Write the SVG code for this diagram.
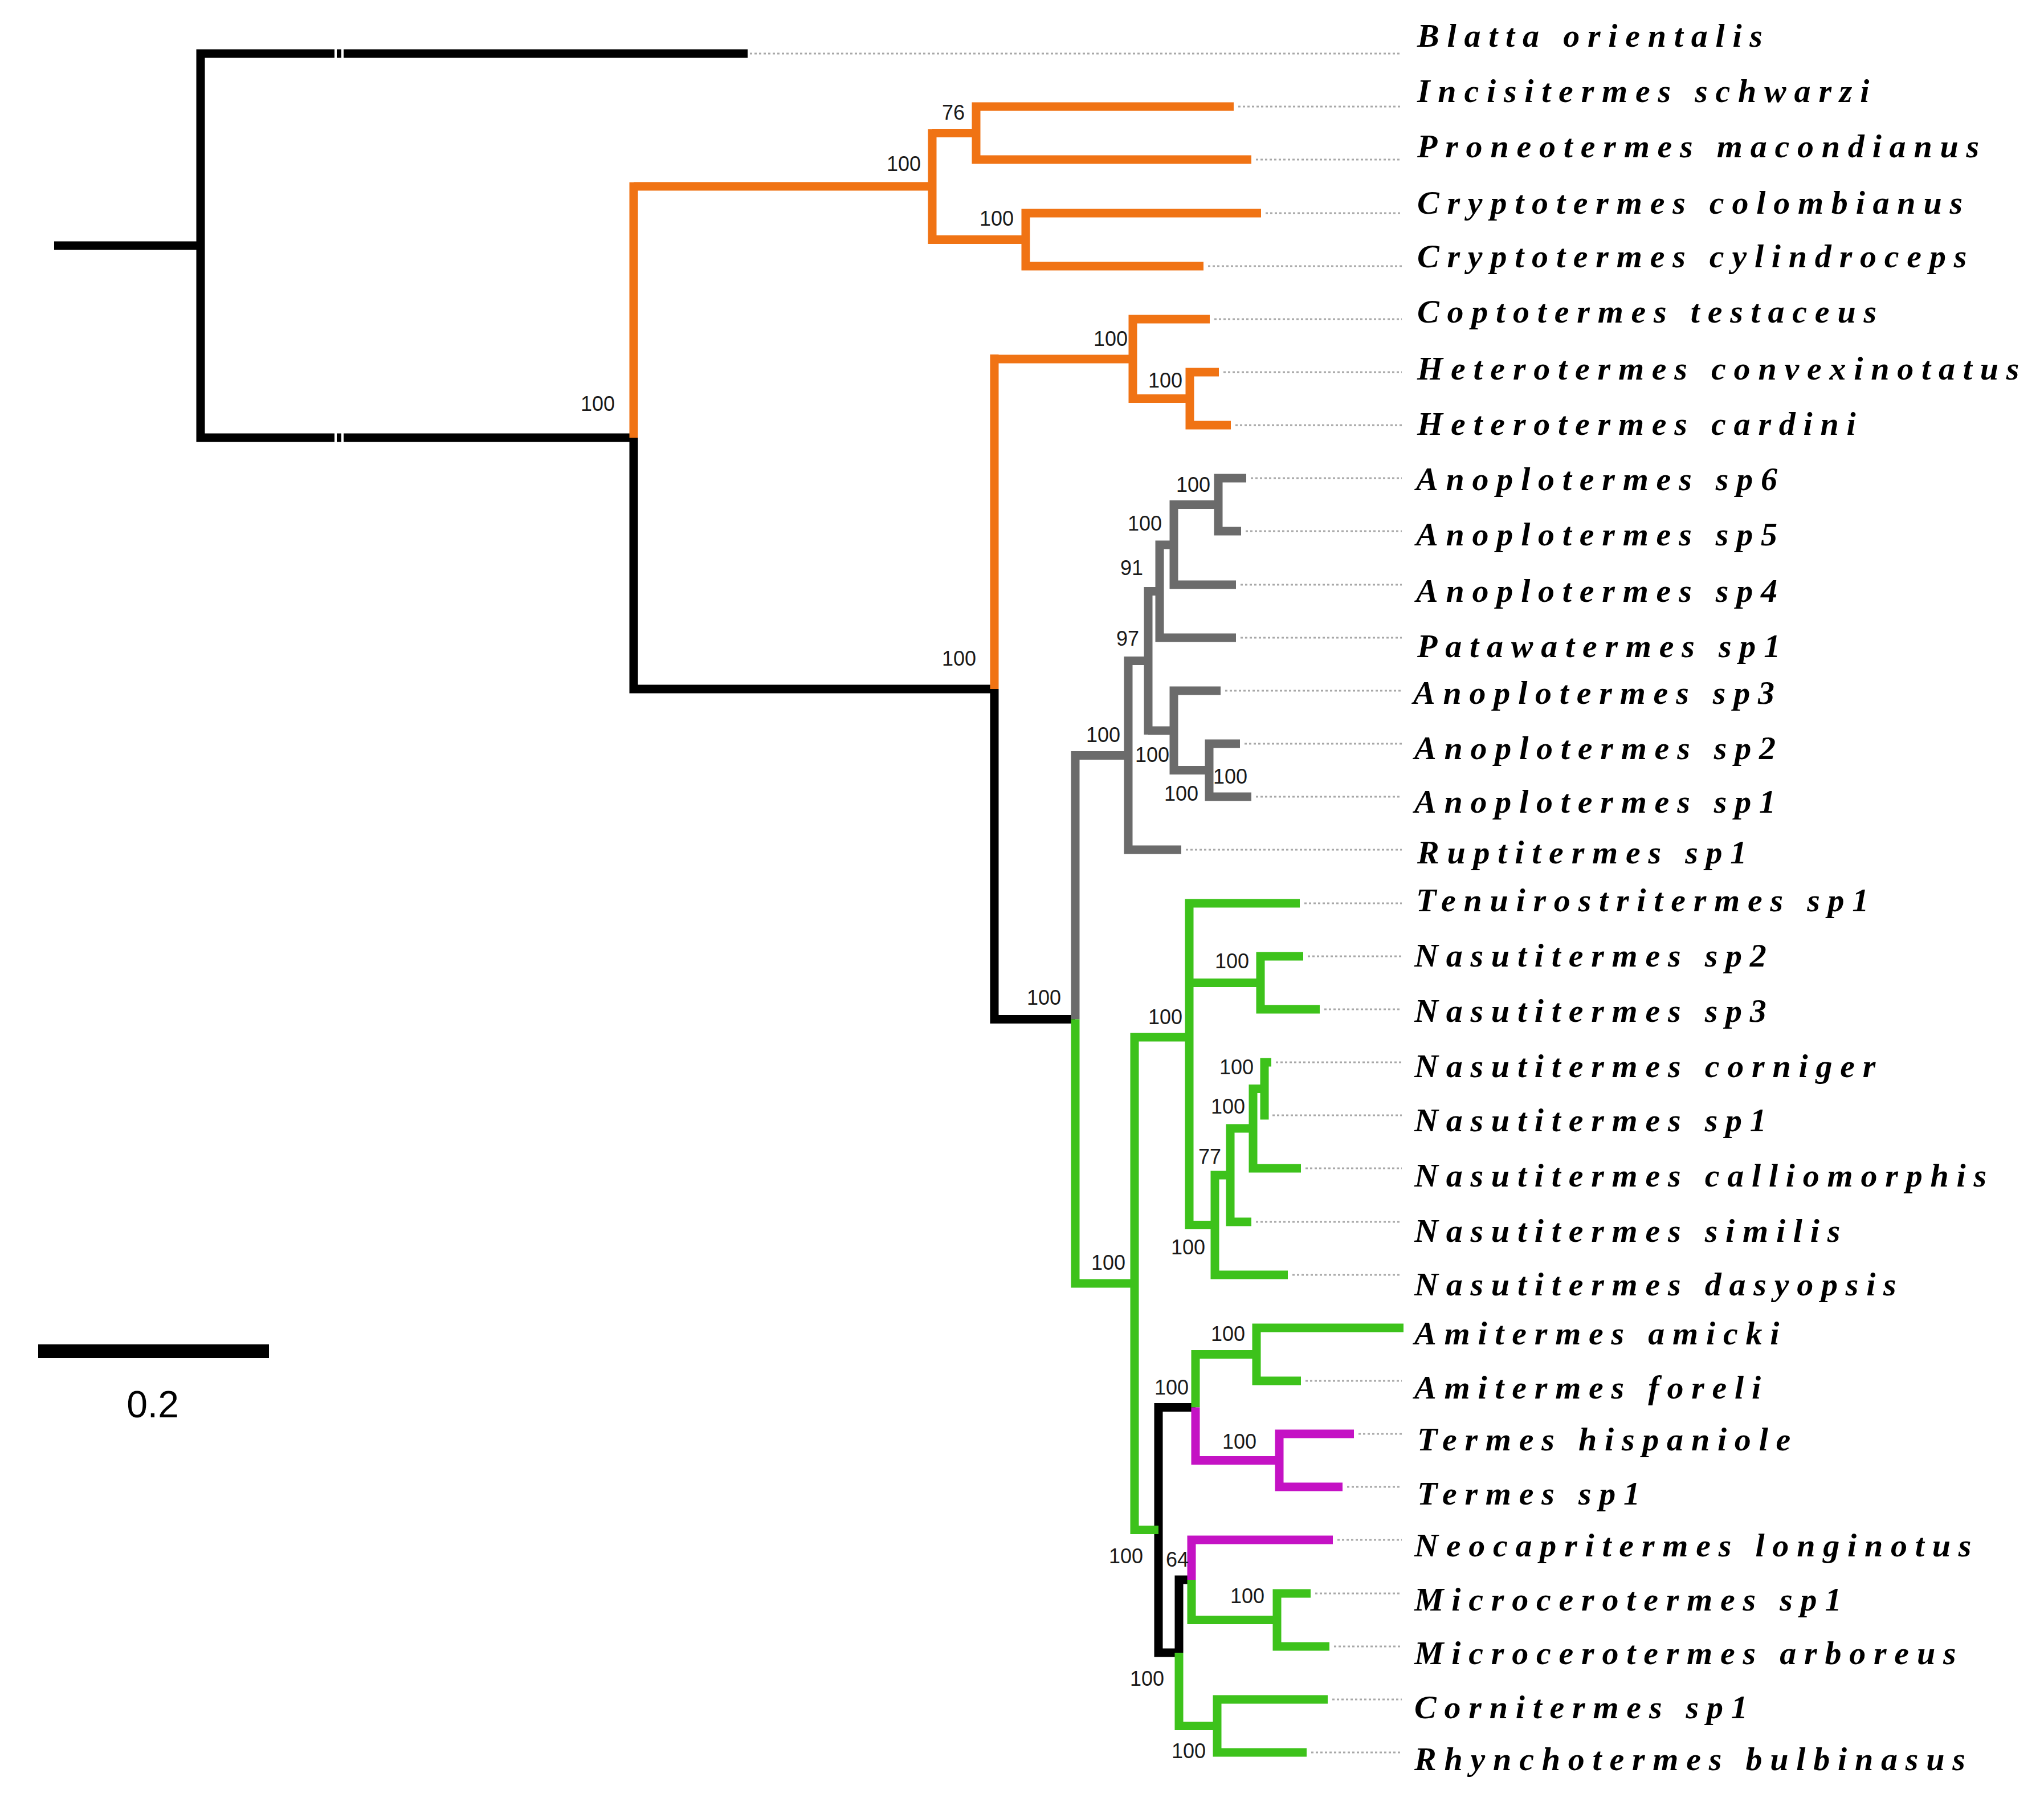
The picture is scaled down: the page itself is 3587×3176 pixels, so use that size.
<svg xmlns="http://www.w3.org/2000/svg" width="3587" height="3176" viewBox="0 0 3587 3176">
<style>
.br{fill:none;stroke-width:15;stroke-linecap:butt;stroke-linejoin:miter}
.k{stroke:#000}
.o{stroke:#F07314}
.g{stroke:#6B6B6B}
.gr{stroke:#3DC21B}
.m{stroke:#C412C4}
.lead{fill:none;stroke:#a8a8a8;stroke-width:3;stroke-dasharray:4 4}
.tax{font-family:"Liberation Serif","Times New Roman",serif;font-weight:bold;font-style:italic;font-size:58px;letter-spacing:13.8px;fill:#000}
.bs{font-family:"Liberation Sans",Arial,sans-serif;font-size:36px;fill:#1a1a1a;text-anchor:end}
.brk{stroke:#fff;stroke-width:4}
</style>
<rect width="3587" height="3176" fill="#fff"/>
<g id="connectors">
<g id="leaders">
<path class="lead" d="M1316,94H2460M2173,187H2460M2204,280H2460M2221,374H2460M2120,467H2460M2131,560H2460M2147,653H2460M2168,746H2460M2195,839H2460M2186,932H2460M2177,1026H2460M2177,1119H2460M2150,1212H2460M2184,1305H2460M2204,1398H2460M2081,1491H2460M2289,1585H2460M2295,1678H2460M2324,1771H2460M2239,1864H2460M2233,1957H2460M2291,2050H2460M2204,2144H2460M2268,2237H2460M2291,2423H2460M2384,2516H2460M2364,2609H2460M2347,2702H2460M2308,2796H2460M2341,2889H2460M2338,2982H2460M2301,3075H2460"/>
</g>
<g id="branches-black">
<path class="br k" d="M95,431H352M352,86.5V775.5M352,94H1312M352,768H1112M1112,768V1216.5M1112,1209H1745M1745,1209V1796M1745,1788.5H1887M2033,2462V2907.5M2033,2469.5H2098M2033,2900H2069M2069,2764.5V2900M2069,2772H2091"/>
<line class="brk" x1="589" y1="81" x2="589" y2="107"/>
<line class="brk" x1="601" y1="81" x2="601" y2="107"/>
<line class="brk" x1="589" y1="755" x2="589" y2="781"/>
<line class="brk" x1="601" y1="755" x2="601" y2="781"/>
</g>
<g id="branches-orange">
<path class="br o" d="M1112,320V768M1112,327H1636M1636,226.5V428M1636,233.5H1713M1636,420.5H1800M1713,179.5V287.5M1713,187H2165M1713,280H2196M1800,366.5V474.5M1800,374H2213M1800,467H2112M1745,622V1209M1745,630H1988M1988,552.5V707M1988,560H2123M1988,699.5H2088M2088,645.5V753.5M2088,653H2139M2088,746H2160"/>
</g>
<g id="branches-gray">
<path class="br g" d="M1887,1318V1788.5M1887,1325.5H1980M1980,1152V1498.5M1980,1159.5H2015M1980,1491H2073M2015,1030V1289M2015,1037.5H2035M2015,1282H2060M2035,948.5V1126.5M2035,956H2060M2035,1119H2169M2060,878V1033.5M2060,885.5H2138M2060,1026H2169M2138,831.5V939.5M2138,839H2187M2138,932H2178M2060,1204.5V1359M2060,1212H2142M2060,1351.5H2122M2122,1297.5V1405.5M2122,1305H2176M2122,1398H2196"/>
</g>
<g id="branches-green">
<path class="br gr" d="M1887,1788.5V2259.5M1887,2252H1991M1991,1812.5V2692M1991,1820H2087M1991,2684.5H2033M2087,1577.5V2157M2087,1585H2281M2087,1724.5H2212M2087,2149.5H2132M2212,1670.5V1778.5M2212,1678H2287M2212,1771H2316M2132,2054.5V2244.5M2132,2062H2159M2132,2237H2260M2159,1972.5V2151.5M2159,1980H2199M2159,2144H2196M2199,1903V2057.5M2199,1910.5H2219M2199,2050H2283M2219,1856.5V1964.5M2219,1864H2231M2219,1957H2225M2098,2369V2469.5M2098,2376.5H2205M2205,2322.5V2430.5M2205,2330H2463M2205,2423H2283M2069,2900V3036M2069,3028.5H2136M2136,2974.5V3082.5M2136,2982H2330M2136,3075H2293M2091,2772V2850M2091,2842.5H2241M2241,2788.5V2896.5M2241,2796H2300M2241,2889H2333"/>
</g>
<g id="branches-magenta">
<path class="br m" d="M2098,2469.5V2570M2098,2562.5H2245M2245,2508.5V2616.5M2245,2516H2376M2245,2609H2356M2091,2694.5V2772M2091,2702H2339"/>
</g>
</g>
<g id="support">
<text class="bs" x="1079" y="721">100</text>
<text class="bs" x="1616" y="300">100</text>
<text class="bs" x="1693" y="210">76</text>
<text class="bs" x="1779" y="396">100</text>
<text class="bs" x="1713" y="1168">100</text>
<text class="bs" x="1979" y="607">100</text>
<text class="bs" x="2075" y="680">100</text>
<text class="bs" x="2124" y="863">100</text>
<text class="bs" x="2039" y="931">100</text>
<text class="bs" x="2006" y="1009">91</text>
<text class="bs" x="1999" y="1133">97</text>
<text class="bs" x="1966" y="1302">100</text>
<text class="bs" x="2052" y="1337">100</text>
<text class="bs" x="2189" y="1375">100</text>
<text class="bs" x="2103" y="1405">100</text>
<text class="bs" x="1862" y="1763">100</text>
<text class="bs" x="2075" y="1797">100</text>
<text class="bs" x="2192" y="1699">100</text>
<text class="bs" x="2200" y="1885">100</text>
<text class="bs" x="2185" y="1954">100</text>
<text class="bs" x="2143" y="2042">77</text>
<text class="bs" x="2115" y="2201">100</text>
<text class="bs" x="1975" y="2228">100</text>
<text class="bs" x="2185" y="2353">100</text>
<text class="bs" x="2086" y="2447">100</text>
<text class="bs" x="2205" y="2542">100</text>
<text class="bs" x="2006" y="2743">100</text>
<text class="bs" x="2086" y="2749">64</text>
<text class="bs" x="2219" y="2813">100</text>
<text class="bs" x="2043" y="2958">100</text>
<text class="bs" x="2116" y="3085">100</text>
</g>
<g id="taxa">
<g id="t01"><text class="tax" x="2487" y="82">Blatta orientalis</text></g>
<g id="t02"><text class="tax" x="2487" y="179">Incisitermes schwarzi</text></g>
<g id="t03"><text class="tax" x="2487" y="276">Proneotermes macondianus</text></g>
<g id="t04"><text class="tax" x="2487" y="375">Cryptotermes colombianus</text></g>
<g id="t05"><text class="tax" x="2487" y="469">Cryptotermes cylindroceps</text></g>
<g id="t06"><text class="tax" x="2487" y="566">Coptotermes testaceus</text></g>
<g id="t07"><text class="tax" x="2487" y="666">Heterotermes convexinotatus</text></g>
<g id="t08"><text class="tax" x="2487" y="763">Heterotermes cardini</text></g>
<g id="t09"><text class="tax" x="2485" y="860">Anoplotermes sp6</text></g>
<g id="t10"><text class="tax" x="2485" y="957">Anoplotermes sp5</text></g>
<g id="t11"><text class="tax" x="2485" y="1056">Anoplotermes sp4</text></g>
<g id="t12"><text class="tax" x="2487" y="1153">Patawatermes sp1</text></g>
<g id="t13"><text class="tax" x="2480" y="1235">Anoplotermes sp3</text></g>
<g id="t14"><text class="tax" x="2482" y="1332">Anoplotermes sp2</text></g>
<g id="t15"><text class="tax" x="2482" y="1426">Anoplotermes sp1</text></g>
<g id="t16"><text class="tax" x="2487" y="1515">Ruptitermes sp1</text></g>
<g id="t17"><text class="tax" x="2485" y="1599">Tenuirostritermes sp1</text></g>
<g id="t18"><text class="tax" x="2482" y="1696">Nasutitermes sp2</text></g>
<g id="t19"><text class="tax" x="2482" y="1793">Nasutitermes sp3</text></g>
<g id="t20"><text class="tax" x="2482" y="1890">Nasutitermes corniger</text></g>
<g id="t21"><text class="tax" x="2482" y="1985">Nasutitermes sp1</text></g>
<g id="t22"><text class="tax" x="2482" y="2082">Nasutitermes calliomorphis</text></g>
<g id="t23"><text class="tax" x="2482" y="2179">Nasutitermes similis</text></g>
<g id="t24"><text class="tax" x="2482" y="2273">Nasutitermes dasyopsis</text></g>
<g id="t25"><text class="tax" x="2482" y="2359">Amitermes amicki</text></g>
<g id="t26"><text class="tax" x="2482" y="2454">Amitermes foreli</text></g>
<g id="t27"><text class="tax" x="2487" y="2545">Termes hispaniole</text></g>
<g id="t28"><text class="tax" x="2487" y="2640">Termes sp1</text></g>
<g id="t29"><text class="tax" x="2482" y="2731">Neocapritermes longinotus</text></g>
<g id="t30"><text class="tax" x="2482" y="2826">Microcerotermes sp1</text></g>
<g id="t31"><text class="tax" x="2482" y="2920">Microcerotermes arboreus</text></g>
<g id="t32"><text class="tax" x="2482" y="3015">Cornitermes sp1</text></g>
<g id="t33"><text class="tax" x="2482" y="3106">Rhynchotermes bulbinasus</text></g>
</g>
<g id="scale">
<rect x="67" y="2359" width="405" height="24" fill="#000"/>
<text x="268" y="2487" font-family="Liberation Sans, Arial, sans-serif" font-size="66" text-anchor="middle" fill="#000">0.2</text>
</g>
</svg>
